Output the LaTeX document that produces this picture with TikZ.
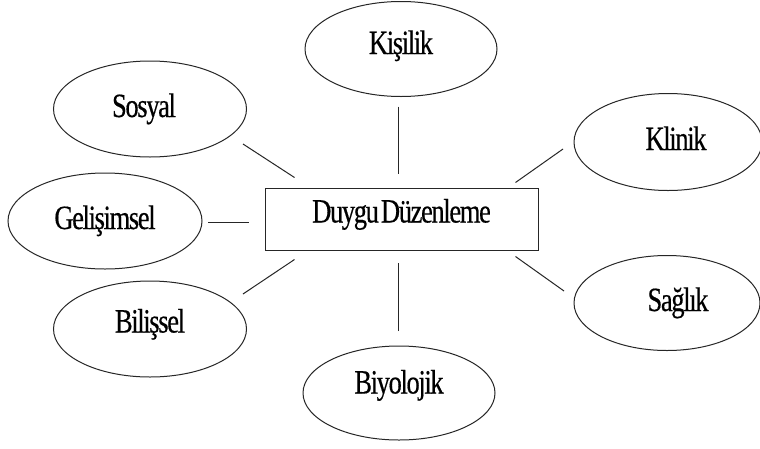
\documentclass[tikz,border=0pt]{standalone}
\usepackage{fontspec}
\usetikzlibrary{shapes.geometric,calc}
\newfontfamily\lblfont[FakeStretch=0.78,LetterSpace=-4,FakeBold=0.4]{Liberation Serif}
\tikzset{
  oval/.style={draw=black!85, line width=1pt, ellipse, inner sep=0pt,
    text height=23pt, text depth=7pt,
    font=\lblfont\fontsize{34}{34}\selectfont},
  mainbox/.style={draw=black!85, line width=1pt, rectangle, inner sep=0pt,
    minimum width=273pt, minimum height=62pt,
    text height=23pt, text depth=7pt,
    font=\lblfont\fontsize{34}{34}\selectfont},
  link/.style={draw=black!85, line width=1pt}
}
\begin{document}
\begin{tikzpicture}[x=1pt,y=-1pt]
\useasboundingbox (0,0) rectangle (760,448);
\clip (0,0) rectangle (760,448);
\fill[white] (0,0) rectangle (760,448);

\node[mainbox] (box) at (401.5,219) {\raisebox{4.5pt}{Duygu\hspace{2pt}Düzenleme}};

\node[oval, minimum width=192pt, minimum height=95pt] (kisilik) at (401,49) {\raisebox{3pt}{Kişilik}};
\node[oval, minimum width=193pt, minimum height=96pt] (sosyal) at (150,109) {\hspace*{-12pt}Sosyal};
\node[oval, minimum width=188pt, minimum height=97pt] (klinik) at (668,142) {\hspace*{16pt}Klinik};
\node[oval, minimum width=194pt, minimum height=96pt] (gelisim) at (105,221) {Gelişimsel};
\node[oval, minimum width=186pt, minimum height=95pt] (saglik) at (667,303) {\hspace*{22pt}Sağlık};
\node[oval, minimum width=193pt, minimum height=96pt] (bilis) at (150,329) {\raisebox{4.5pt}{Bilişsel}};
\node[oval, minimum width=192pt, minimum height=94pt] (biyo) at (399,393) {\raisebox{7.5pt}{Biyolojik}};

\draw[link] ($(kisilik.south)+(-3,9.5)$) -- ($(box.north)+(-3.5,-14)$);
\draw[link] ($(sosyal.center)+(93,35)$) -- ($(box.north west)+(30,-10)$);
\draw[link] ($(klinik.center)+(-105,7)$) -- ($(box.north east)+(-23,-5)$);
\draw[link] ($(gelisim.center)+(103,1)$) -- ($(box.west)+(-16,3)$);
\draw[link] ($(saglik.center)+(-103,-12)$) -- ($(box.south east)+(-23,6)$);
\draw[link] ($(bilis.center)+(93,-35)$) -- ($(box.south west)+(30,9)$);
\draw[link] ($(biyo.center)+(-1,-62)$) -- ($(box.south)+(-3.5,12)$);
\end{tikzpicture}
\end{document}
